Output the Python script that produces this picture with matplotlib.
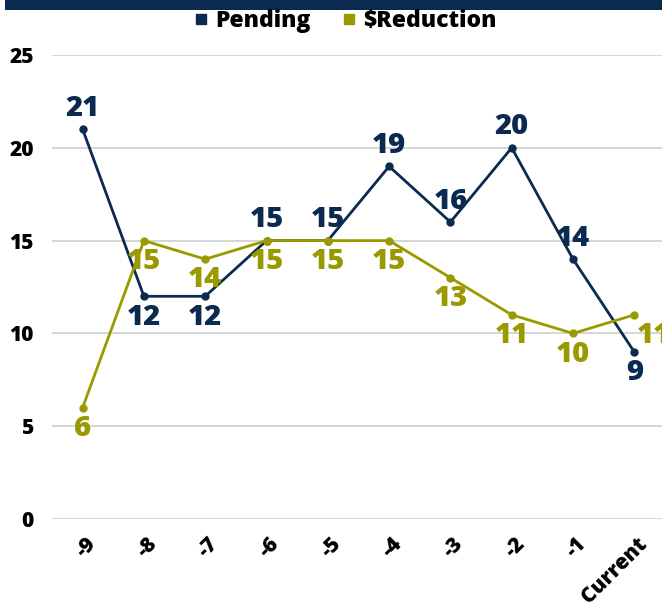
import matplotlib
matplotlib.use("Agg")
import matplotlib.pyplot as plt
import matplotlib.transforms as mtransforms
from matplotlib.patches import Rectangle
from matplotlib.lines import Line2D

categories = ["-9", "-8", "-7", "-6", "-5", "-4", "-3", "-2", "-1", "Current"]
pending = [21, 12, 12, 15, 15, 19, 16, 20, 14, 9]
reduction = [6, 15, 14, 15, 15, 15, 13, 11, 10, 11]

# label placement: +1 above the point, -1 below
pending_pos = [1, -1, -1, 1, 1, 1, 1, 1, 1, -1]
reduction_pos = [-1, -1, -1, -1, -1, -1, -1, -1, -1, -1]

navy = "#0b2a4f"
olive = "#9a9a00"

plt.rcParams['font.family'] = ['Open Sans', 'DejaVu Sans']

fig = plt.figure(figsize=(6.62, 6.13), dpi=100)
ax = fig.add_axes([0.0785, 0.1533, 0.926, 0.757])

x = list(range(len(categories)))
ax.plot(x, pending, color=navy, lw=2.0, marker='o', ms=5, zorder=3)
ax.plot(x, reduction, color=olive, lw=2.0, marker='o', ms=5, zorder=3)

for i, (v, p) in enumerate(zip(pending, pending_pos)):
    ax.annotate(str(v), (i, v), xytext=(0, 15 * p), textcoords='offset points',
                ha='center', va='center', fontsize=21, fontweight='heavy', color=navy, zorder=4)
for i, (v, p) in enumerate(zip(reduction, reduction_pos)):
    dx = 14 if i == len(categories) - 1 else 0
    ax.annotate(str(v), (i, v), xytext=(dx, 15 * p), textcoords='offset points',
                ha='center', va='center', fontsize=21, fontweight='heavy', color=olive, zorder=4)

ax.set_xlim(-0.5, len(categories) - 0.5)
ax.set_ylim(0, 25)
ax.set_yticks([0, 5, 10, 15, 20, 25])
ax.grid(axis='y', color='#d0d0d0', lw=1.2)
ax.set_axisbelow(True)
for s in ax.spines.values():
    s.set_visible(False)
ax.tick_params(axis='both', length=0)
ax.tick_params(axis='y', pad=13, labelsize=15)
for lab in ax.get_yticklabels():
    lab.set_fontweight('heavy')

ax.set_xticks(x)
ax.set_xticklabels(categories, rotation=45, ha='right', va='center',
                   rotation_mode='anchor', fontsize=15, fontweight='heavy')
ax.tick_params(axis='x', pad=16)
offset = mtransforms.ScaledTranslation(10 / 100, 0, fig.dpi_scale_trans)
for lab in ax.get_xticklabels():
    lab.set_transform(lab.get_transform() + offset)

# navy band across the top
fig.patches.append(Rectangle((0.008, 0.983), 1.0, 0.02, transform=fig.transFigure,
                             facecolor=navy, edgecolor='none'))

handles = [Line2D([], [], ls='none', marker='s', ms=7, color=navy),
           Line2D([], [], ls='none', marker='s', ms=7, color=olive)]
fig.legend(handles, ["Pending", "$Reduction"], loc='center', bbox_to_anchor=(0.52, 0.965),
           ncol=2, frameon=False, prop={'size': 16.5, 'weight': 'heavy'},
           handletextpad=0.2, columnspacing=1.3, handlelength=0.8)

fig.savefig("out.png", dpi=100)
